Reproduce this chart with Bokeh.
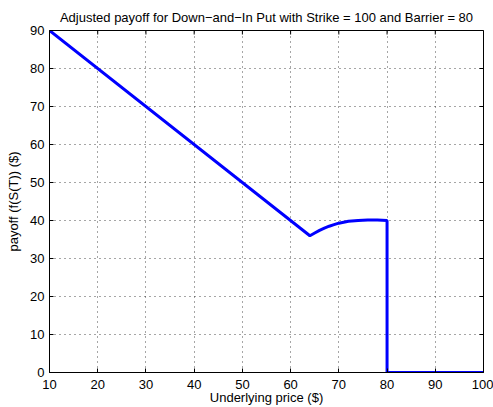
import math
from bokeh.plotting import figure
from bokeh.models import FixedTicker, Range1d
from bokeh.embed import file_html
from bokeh.resources import INLINE

# Data
price = [10, 64, 65, 66, 67, 68, 69, 70, 72, 74, 76, 78, 80, 80, 100]
payoff = [90, 36.0, 36.7, 37.4, 38.0, 38.5, 38.9, 39.3, 39.8, 40.0, 40.1, 40.1, 40.0, 0, 0]
x_ticks = [10, 20, 30, 40, 50, 60, 70, 80, 90, 100]
y_ticks = [0, 10, 20, 30, 40, 50, 60, 70, 80, 90]

FONT = "Liberation Sans"
FS = "13px"

p = figure(width=493, height=407, output_backend="svg", toolbar_location=None,
           x_range=Range1d(10, 100), y_range=Range1d(0, 90),
           title="Adjusted payoff for Down\u2212and\u2212In Put with Strike = 100 and Barrier = 80",
           min_border_left=49, min_border_right=10, min_border_top=30, min_border_bottom=35)

p.title.align = "center"
p.title.text_font = FONT
p.title.text_font_style = "normal"
p.title.text_font_size = FS
p.title.text_color = "black"
p.title.offset = 0
p.title.standoff = 12

p.outline_line_color = "black"
p.outline_line_width = 1
p.background_fill_color = "white"
p.border_fill_color = "white"

for ax in (p.xaxis[0], p.yaxis[0]):
    ax.major_tick_in = 4
    ax.major_tick_out = 0
    ax.minor_tick_in = 0
    ax.minor_tick_out = 0
    ax.axis_line_color = "black"
    ax.major_tick_line_color = "black"
    ax.major_label_text_font = FONT
    ax.major_label_text_font_size = FS
    ax.major_label_text_color = "black"
    ax.axis_label_text_font = FONT
    ax.axis_label_text_font_size = FS
    ax.axis_label_text_font_style = "normal"
    ax.axis_label_text_color = "black"

p.xaxis[0].ticker = FixedTicker(ticks=x_ticks)
p.yaxis[0].ticker = FixedTicker(ticks=y_ticks)
p.xaxis[0].axis_label = "Underlying price ($)"
p.yaxis[0].axis_label = "payoff (f(S(T)) ($)"
p.xaxis[0].major_label_standoff = 7
p.yaxis[0].major_label_standoff = 5
p.xaxis[0].axis_label_standoff = -2
p.yaxis[0].axis_label_standoff = 6

p.xgrid.ticker = FixedTicker(ticks=x_ticks)
p.ygrid.ticker = FixedTicker(ticks=y_ticks)
for g in (p.xgrid[0], p.ygrid[0]):
    g.grid_line_color = "black"
    g.grid_line_dash = "1 4"
    g.grid_line_alpha = 0.7

# tick marks along the top and right edges (clipped to the frame, so they point inward)
p.scatter(x=x_ticks, y=[y_ticks[-1]] * len(x_ticks), marker="dash", angle=math.pi / 2,
          size=8, line_color="black", line_width=1)
p.scatter(x=[x_ticks[-1]] * len(y_ticks), y=y_ticks, marker="dash",
          size=8, line_color="black", line_width=1)

p.line(price, payoff, line_color="#0000ff", line_width=3)

open("out.html", "w").write(file_html(p, INLINE))
